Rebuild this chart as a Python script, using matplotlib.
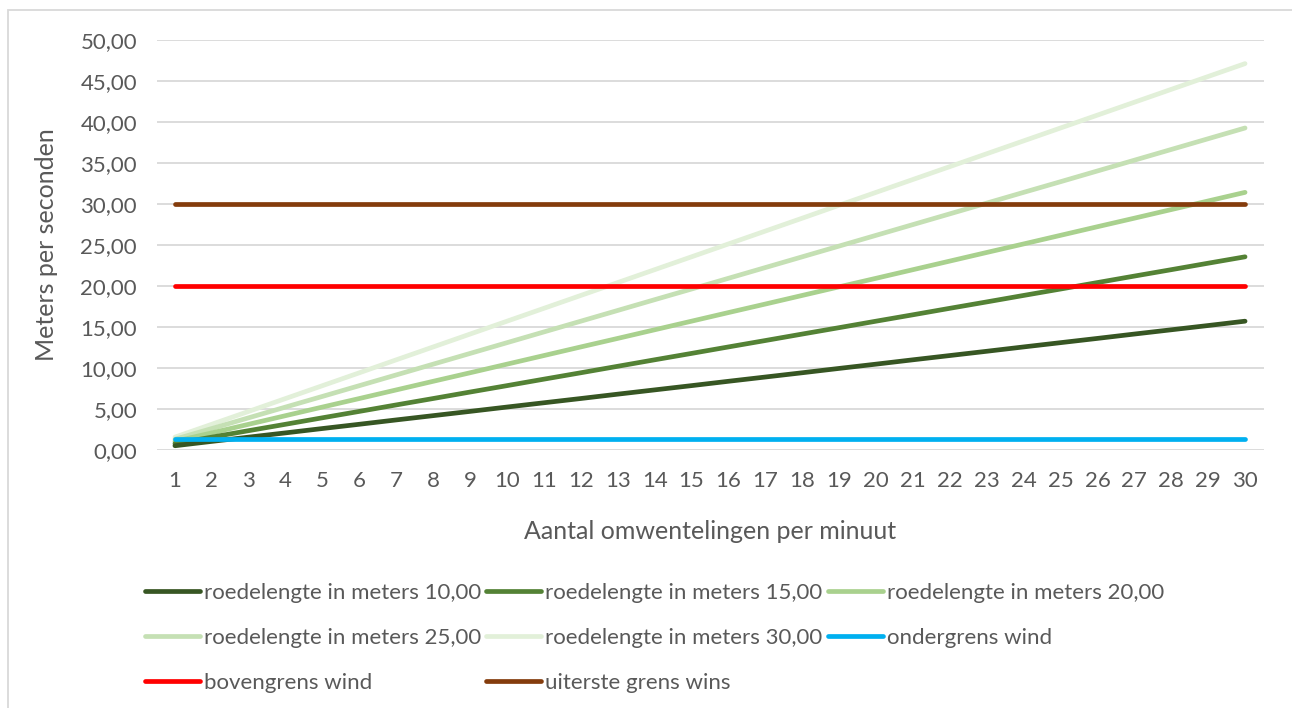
import matplotlib
matplotlib.use("Agg")
import matplotlib.pyplot as plt
from matplotlib.lines import Line2D
from matplotlib.patches import Rectangle
from matplotlib.ticker import FuncFormatter

rpm = list(range(1, 31))

roede_10 = [0.52, 1.05, 1.57, 2.09, 2.62, 3.14, 3.67, 4.19, 4.71, 5.24, 5.76, 6.28, 6.81, 7.33, 7.85,
            8.38, 8.90, 9.42, 9.95, 10.47, 11.00, 11.52, 12.04, 12.57, 13.09, 13.61, 14.14, 14.66, 15.18, 15.71]
roede_15 = [0.79, 1.57, 2.36, 3.14, 3.93, 4.71, 5.50, 6.28, 7.07, 7.85, 8.64, 9.42, 10.21, 11.00, 11.78,
            12.57, 13.35, 14.14, 14.92, 15.71, 16.49, 17.28, 18.06, 18.85, 19.63, 20.42, 21.21, 21.99, 22.78, 23.56]
roede_20 = [1.05, 2.09, 3.14, 4.19, 5.24, 6.28, 7.33, 8.38, 9.42, 10.47, 11.52, 12.57, 13.61, 14.66, 15.71,
            16.76, 17.80, 18.85, 19.90, 20.94, 21.99, 23.04, 24.09, 25.13, 26.18, 27.23, 28.27, 29.32, 30.37, 31.42]
roede_25 = [1.31, 2.62, 3.93, 5.24, 6.54, 7.85, 9.16, 10.47, 11.78, 13.09, 14.40, 15.71, 17.02, 18.33, 19.63,
            20.94, 22.25, 23.56, 24.87, 26.18, 27.49, 28.80, 30.11, 31.42, 32.72, 34.03, 35.34, 36.65, 37.96, 39.27]
roede_30 = [1.57, 3.14, 4.71, 6.28, 7.85, 9.42, 11.00, 12.57, 14.14, 15.71, 17.28, 18.85, 20.42, 21.99, 23.56,
            25.13, 26.70, 28.27, 29.85, 31.42, 32.99, 34.56, 36.13, 37.70, 39.27, 40.84, 42.41, 43.98, 45.55, 47.12]
ondergrens = [1.4] * 30
bovengrens = [20.0] * 30
uiterste = [30.0] * 30

labels = ["roedelengte in meters 10,00", "roedelengte in meters 15,00", "roedelengte in meters 20,00",
          "roedelengte in meters 25,00", "roedelengte in meters 30,00", "ondergrens wind",
          "bovengrens wind", "uiterste grens wins"]
series = [roede_10, roede_15, roede_20, roede_25, roede_30, ondergrens, bovengrens, uiterste]
colors = ["#375623", "#548235", "#a9d18e", "#c5e0b4", "#e2f0d9", "#00b0f0", "#ff0000", "#843c0c"]

plt.rcParams['font.family'] = ['Lato', 'DejaVu Sans']
TXT = "#595959"

W, H = 1292, 708
fig = plt.figure(figsize=(W / 100, H / 100), dpi=100)

# chart frame
fig.patches.append(Rectangle((8 / W, -0.1), 1.2, (H - 10) / H + 0.1, transform=fig.transFigure,
                             fill=False, edgecolor="#d9d9d9", linewidth=1.3))

x0, x1 = 156.5, 1263.5
y0, y1 = 450, 40
ax = fig.add_axes([x0 / W, (H - y0) / H, (x1 - x0) / W, (y0 - y1) / H])
ax.set_xlim(0.5, 30.5)
ax.set_ylim(0, 50)

order = [4, 3, 2, 1, 0, 5, 6, 7]
lw = 3.4
for i in order:
    ax.plot(rpm, series[i], color=colors[i], linewidth=lw, solid_capstyle="round", zorder=3 + (i >= 5))

ax.set_yticks([5 * k for k in range(11)])
ax.yaxis.set_major_formatter(FuncFormatter(lambda v, p: f"{v:.2f}".replace(".", ",")))
ax.set_xticks(rpm)
ax.set_xticklabels([str(r) for r in rpm])
ax.grid(axis="y", color="#d9d9d9", linewidth=1.3)
ax.set_axisbelow(True)
for s in ax.spines.values():
    s.set_visible(False)
ax.tick_params(axis="both", length=0, labelsize=16, labelcolor=TXT)
ax.tick_params(axis="y", pad=14)
ax.tick_params(axis="x", pad=15)

ax.set_ylabel("Meters per seconden", fontsize=18, color=TXT)
ax.yaxis.set_label_coords((58 - x0) / (x1 - x0), 0.5)
ax.set_xlabel("Aantal omwentelingen per minuut", fontsize=18, color=TXT)
ax.xaxis.set_label_coords(0.5, (y0 - 520) / (y0 - y1))

# legend (row-major like Excel)
col_x = [145, 486, 828]
row_y = [591, 636, 681]
for k, i in enumerate(range(8)):
    r, c = divmod(k, 3)
    hx, hy = col_x[c], row_y[r]
    fig.add_artist(Line2D([hx / W, (hx + 55) / W], [(H - hy) / H, (H - hy) / H], transform=fig.transFigure,
                          color=colors[i], linewidth=lw, solid_capstyle="round"))
    fig.text((hx + 59) / W, (H - hy) / H, labels[i], fontsize=16, color=TXT, ha="left", va="center_baseline")

fig.savefig("out.png", dpi=100)
